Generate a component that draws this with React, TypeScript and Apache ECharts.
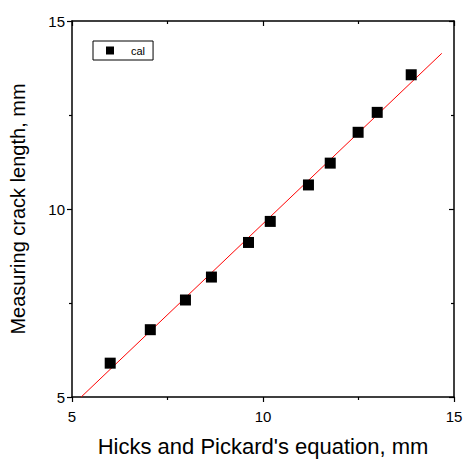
import React, { useEffect, useRef } from "react";
import * as echarts from "echarts";

const calX = [6.0, 7.05, 7.97, 8.65, 9.62, 10.19, 11.19, 11.76, 12.49, 12.99, 13.88];
const calY = [5.9, 6.79, 7.58, 8.19, 9.11, 9.67, 10.64, 11.22, 12.04, 12.57, 13.57];
const fitX = [5.24, 14.68];
const fitY = [5.0, 14.14];
const xTitle = "Hicks and Pickard's equation, mm";
const yTitle = "Measuring crack length, mm";
const seriesName = "cal";

export default function App() {
  const ref = useRef<HTMLDivElement>(null);
  useEffect(() => {
    if (!ref.current) return;
    const chart = echarts.init(ref.current, undefined, { renderer: "svg" });
    const font = "Liberation Sans, Arial, sans-serif";
    const axisLine = { show: true, onZero: false, lineStyle: { color: "#000", width: 1.5 } };
    const base = (inside: boolean) => ({
      type: "value" as const,
      min: 5,
      max: 15,
      interval: 5,
      axisLine,
      axisTick: { show: true, inside, length: 5, lineStyle: { color: "#000", width: 1.2 } },
      minorTick: { show: true, splitNumber: 2, length: 3, lineStyle: { color: "#000", width: 1.2 } },
      splitLine: { show: false },
      minorSplitLine: { show: false },
    });
    chart.setOption({
      animation: false,
      backgroundColor: "#fff",
      grid: { left: 72, right: 12, top: 21, bottom: 62 },
      legend: {
        data: [{ name: seriesName, icon: "rect" }],
        left: 93,
        top: 41,
        orient: "vertical",
        itemWidth: 8,
        itemHeight: 8,
        borderColor: "#000",
        borderWidth: 1,
        borderRadius: 0,
        padding: [4, 8, 4, 13],
        textStyle: { fontFamily: font, fontSize: 11, color: "#000", padding: [0, 0, 0, 12] },
      },
      xAxis: [
        {
          ...base(false),
          position: "bottom",
          name: xTitle,
          nameLocation: "middle",
          nameGap: 38,
          nameTextStyle: { fontFamily: font, fontSize: 22, color: "#000" },
          axisLabel: { fontFamily: font, fontSize: 15, color: "#000", margin: 12 },
        },
        { ...base(true), position: "top", axisLabel: { show: false } },
      ],
      yAxis: [
        {
          ...base(false),
          position: "left",
          name: yTitle,
          nameLocation: "middle",
          nameGap: 44,
          nameTextStyle: { fontFamily: font, fontSize: 20, color: "#000" },
          axisLabel: { fontFamily: font, fontSize: 15, color: "#000", margin: 7 },
        },
        { ...base(true), position: "right", axisLabel: { show: false } },
      ],
      series: [
        {
          name: "fit",
          type: "line",
          xAxisIndex: 0,
          yAxisIndex: 0,
          data: fitX.map((x, i) => [x, fitY[i]]),
          symbol: "none",
          lineStyle: { color: "#ff0000", width: 1 },
          z: 2,
        },
        {
          name: seriesName,
          type: "scatter",
          xAxisIndex: 0,
          yAxisIndex: 0,
          data: calX.map((x, i) => [x, calY[i]]),
          symbol: "rect",
          symbolSize: 11,
          itemStyle: { color: "#000", opacity: 1 },
          z: 3,
        },
      ],
    });
    return () => chart.dispose();
  }, []);
  return (
    <div
      ref={ref}
      style={{ position: "fixed", left: 0, top: 0, width: 466, height: 462 }}
    />
  );
}
